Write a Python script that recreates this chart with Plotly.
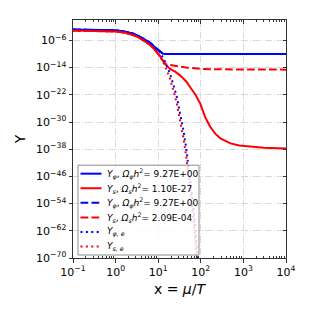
import numpy as np
import plotly.graph_objects as go

# ---- data (x = mu/T, log10 of Y) ----
x_phi = [0.1, 0.3, 1, 1.6, 2.6, 3.5, 4.5, 6.5, 8, 10, 11, 12, 13, 15, 20, 50, 100, 1000, 10000]
logY_phi = [-2.8, -2.85, -3.05, -3.4, -4.05, -4.75, -5.5, -6.7, -7.8, -8.9, -9.4, -9.8, -9.93, -9.97,
            -9.97, -9.97, -9.97, -9.97, -9.97]

x_s_early = [0.1, 0.3, 1, 1.6, 2.6, 3.5, 4.5, 6.5, 8, 10, 11, 12.5, 14.4]
logY_s_early = [-3.1, -3.15, -3.35, -3.7, -4.4, -5.1, -5.9, -7.3, -8.5, -9.9, -10.6, -11.7, -12.9]

x_s_late = [16, 19, 25, 32, 45, 56, 75, 97, 126, 166, 220, 288, 400, 500, 800, 1480, 3000, 10000]
logY_s_late = [-13.5, -14.4, -15.2, -16.2, -18.0, -19.7, -22.0, -24.6, -28.5, -31.4, -33.5, -34.8,
               -35.8, -36.3, -36.9, -37.3, -37.6, -37.8]

x_s2_late = [16, 19, 25, 32, 45, 60, 100, 200, 500, 1000, 10000]
logY_s2_late = [-13.1, -13.3, -13.5, -13.7, -13.95, -14.15, -14.35, -14.5, -14.55, -14.58, -14.6]

x_eq_late = [14, 19, 27, 34, 39, 45, 51, 57, 63, 70, 76, 82, 88]
logY_phi_eq_late = [-11.9, -15.8, -22.3, -28.2, -32.4, -37.3, -42.2, -47.0, -52.0, -57.8, -62.6, -67.5, -72.5]
logY_s_eq_late = [-13.2, -17.3, -24.2, -30.3, -34.7, -39.8, -45.0, -50.0, -55.2, -61.3, -66.4, -71.5, -76.0]

labels = [
    "<i>Y<sub>φ</sub></i>, <i>Ω<sub>φ</sub>h</i><sup>2</sup>= 9.27E+00",
    "<i>Y<sub>s</sub></i>, <i>Ω<sub>s</sub>h</i><sup>2</sup>= 1.10E-27",
    "<i>Y<sub>φ</sub></i>, <i>Ω<sub>φ</sub>h</i><sup>2</sup>= 9.27E+00",
    "<i>Y<sub>s</sub></i>, <i>Ω<sub>s</sub>h</i><sup>2</sup>= 2.09E-04",
    "<i>Y<sub>φ, e</sub></i>",
    "<i>Y<sub>s, e</sub></i>",
]

x_ticks = [0.1, 1, 10, 100, 1000, 10000]
x_ticktext = ["10<sup>−1</sup>", "10<sup>0</sup>", "10<sup>1</sup>", "10<sup>2</sup>", "10<sup>3</sup>", "10<sup>4</sup>"]
y_exps = [-70, -62, -54, -46, -38, -30, -22, -14, -6]

BLUE = "#0000ff"
RED = "#ff0000"
DASH = "7.7px,3.3px"
DOT = "2px,3.4px"
LW = 2

def p10(v):
    return list(np.power(10.0, np.array(v, dtype=float)))

idx11 = x_phi.index(11)
x_phi_eq = x_phi[:idx11 + 1] + x_eq_late
y_phi_eq = logY_phi[:idx11 + 1] + logY_phi_eq_late
idx11s = x_s_early.index(11)
x_s_eq = x_s_early[:idx11s + 1] + x_eq_late
y_s_eq = logY_s_early[:idx11s + 1] + logY_s_eq_late

series = [
    (x_phi, logY_phi, BLUE, "solid"),
    (x_s_early + x_s_late, logY_s_early + logY_s_late, RED, "solid"),
    (x_phi, logY_phi, BLUE, DASH),
    (x_s_early + x_s2_late, logY_s_early + logY_s2_late, RED, DASH),
    (x_phi_eq, y_phi_eq, BLUE, DOT),
    (x_s_eq, y_s_eq, RED, DOT),
]

fig = go.Figure()
for (xs, ys, col, dash), lab in zip(series, labels):
    fig.add_trace(go.Scatter(x=xs, y=p10(ys), mode="lines", name=lab, showlegend=False,
                             line=dict(color=col, width=LW, dash=dash)))
fig.add_trace(go.Scatter(x=[None], y=[None], xaxis="x2", yaxis="y2", showlegend=False, hoverinfo="skip"))

# ---- legend drawn in paper coordinates (page offset of 8 px from body margin) ----
PX0, PX1, PY0, PY1 = 73.0, 286.0, 19.5, 258.0
def px(xp):
    return (xp - PX0) / (PX1 - PX0)
def py(yp):
    return (PY1 - yp) / (PY1 - PY0)

shapes = [dict(type="rect", xref="paper", yref="paper", x0=px(78), x1=px(199), y0=py(255), y1=py(165),
               fillcolor="rgba(255,255,255,0.8)", line=dict(color="#8c8c8c", width=1), layer="above")]
annotations = []
for i, ((xs, ys, col, dash), lab) in enumerate(zip(series, labels)):
    yy = 173.5 + 14.6 * i
    shapes.append(dict(type="line", xref="paper", yref="paper", x0=px(80.5), x1=px(101.5), y0=py(yy), y1=py(yy),
                       line=dict(color=col, width=LW, dash=dash), layer="above"))
    annotations.append(dict(xref="paper", yref="paper", x=px(104.5), y=py(yy), text=lab, showarrow=False,
                            xanchor="left", yanchor="middle", font=dict(size=9, color="black")))

minor_x = [m * 10.0 ** e for e in range(-1, 4) for m in range(2, 10)]
axis_col = "#333333"
grid = dict(showgrid=True, gridcolor="#d9d9d9", griddash="7px,2px,1px,2px", gridwidth=1)

fig.update_layout(
    width=307, height=307,
    margin=dict(l=65, r=29, t=11.5, b=57),
    paper_bgcolor="white", plot_bgcolor="white",
    font=dict(family="DejaVu Sans", color="black", size=11),
    shapes=shapes, annotations=annotations,
    xaxis=dict(type="log", range=[-1, 4], tickvals=x_ticks, ticktext=x_ticktext,
               ticks="outside", ticklen=3.5, tickcolor=axis_col,
               showline=True, linecolor=axis_col, linewidth=1, mirror=True,
               minor=dict(tickvals=minor_x, ticks="inside", ticklen=2, tickcolor=axis_col, showgrid=False),
               title=dict(text="x = <i>μ</i>/<i>T</i>", font=dict(size=14), standoff=6),
               tickfont=dict(size=11), zeroline=False, **grid),
    yaxis=dict(type="log", range=[-70, 0], tickvals=[10.0 ** e for e in y_exps],
               ticktext=["10<sup>−%d</sup>" % (-e) for e in y_exps],
               ticks="outside", ticklen=3.5, tickcolor=axis_col,
               showline=True, linecolor=axis_col, linewidth=1, mirror=True,
               title=dict(text="Y", font=dict(size=14), standoff=7),
               tickfont=dict(size=11), zeroline=False, **grid),
    xaxis2=dict(type="log", range=[-1, 4], overlaying="x", side="top", anchor="y",
                tickvals=x_ticks, showticklabels=False, ticks="inside", ticklen=3.5, tickcolor=axis_col,
                minor=dict(tickvals=minor_x, ticks="inside", ticklen=2, tickcolor=axis_col, showgrid=False),
                showgrid=False, zeroline=False, showline=False),
    yaxis2=dict(type="log", range=[-70, 0], overlaying="y", side="right", anchor="x",
                tickvals=[10.0 ** e for e in y_exps], showticklabels=False, ticks="inside",
                ticklen=3.5, tickcolor=axis_col, showgrid=False, zeroline=False, showline=False),
)

fig.write_html("out.html")
